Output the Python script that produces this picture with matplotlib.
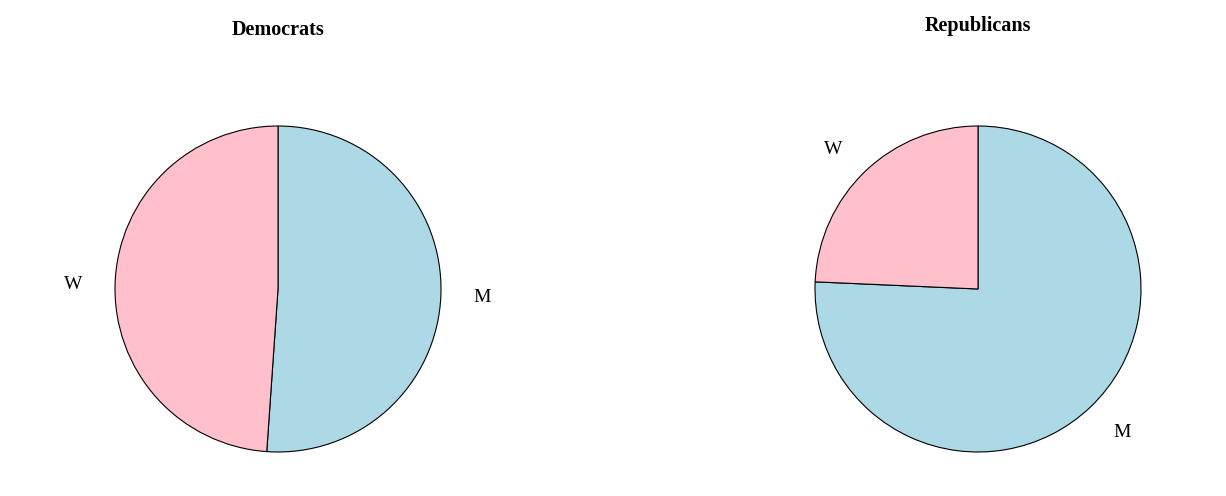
import matplotlib
matplotlib.use("Agg")
import matplotlib.pyplot as plt
from matplotlib.transforms import offset_copy

categories = ["M", "W"]
dem_values = [51.1, 48.9]
rep_values = [75.7, 24.3]
colors = ["#ADD8E6", "#FFC0CB"]

W_PX, H_PX, DPI = 1226, 496, 100
fig = plt.figure(figsize=(W_PX / DPI, H_PX / DPI), dpi=DPI)
plt.rcParams["font.family"] = ["Liberation Serif", "DejaVu Serif"]

R = 163


def add_pie(cx, cy, values, title, title_baseline):
    ax = fig.add_axes([(cx - R) / W_PX, (H_PX - cy - R) / H_PX, 2 * R / W_PX, 2 * R / H_PX])
    wedges, texts = ax.pie(values, labels=categories, colors=colors, startangle=90,
                           counterclock=False, labeldistance=1.2,
                           wedgeprops=dict(edgecolor="black", linewidth=0.8),
                           textprops=dict(fontsize=14))
    for t in texts:
        t.set_transform(offset_copy(t.get_transform(), fig=fig, x=0, y=-2, units="dots"))
    ax.set_xlim(-1, 1)
    ax.set_ylim(-1, 1)
    ax.set_aspect("auto")
    ax.axis("off")
    fig.text(cx / W_PX, (H_PX - title_baseline) / H_PX, title, ha="center", va="baseline",
             fontsize=14.5, fontweight="bold")


add_pie(278, 289, dem_values, "Democrats", 35)
add_pie(978, 289, rep_values, "Republicans", 31)

fig.savefig("out.png", dpi=DPI)
